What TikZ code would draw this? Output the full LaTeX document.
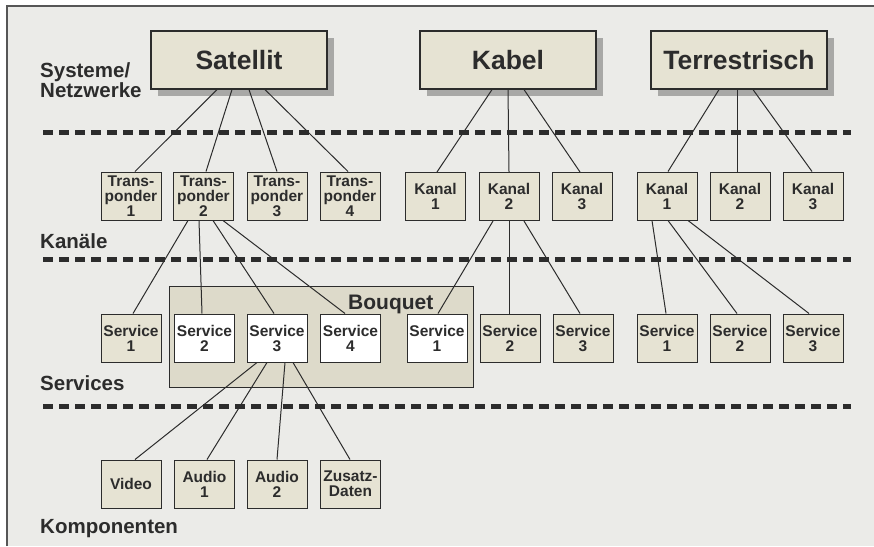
\documentclass[tikz,border=0pt]{standalone}
\usepackage{fontspec}
\setmainfont{Liberation Sans}
\usetikzlibrary{shadows}
\definecolor{bg}{HTML}{EBEBE8}
\definecolor{boxfill}{HTML}{E6E3D3}
\definecolor{bqfill}{HTML}{DDDACA}
\definecolor{ink}{HTML}{2C2C2C}
\definecolor{shade}{HTML}{A8A8A6}
\tikzset{
  bigbox/.style={draw=ink, line width=1.2pt, fill=boxfill, minimum width=176pt, minimum height=58pt,
    inner sep=0pt, font=\fontsize{26.5}{28}\selectfont\bfseries, text=ink,
    drop shadow={shadow xshift=7pt, shadow yshift=-7pt, fill=shade, opacity=1}},
  smallbox/.style={draw=ink, line width=1pt, fill=boxfill, minimum width=60pt, minimum height=48pt,
    inner sep=0pt, align=center, font=\fontsize{15.5}{15}\selectfont\bfseries, text=ink},
  whitebox/.style={smallbox, fill=white},
  layerlabel/.style={anchor=base west, inner sep=0pt, align=left, text=ink,
    font=\fontsize{20.5}{20}\selectfont\bfseries},
  sep/.style={draw=ink, line width=5pt, dash pattern=on 10pt off 6pt},
  link/.style={draw=ink, line width=1pt},
}
\begin{document}
\begin{tikzpicture}[x=1pt,y=-1pt]
\useasboundingbox (0,0) rectangle (874,546);
\fill[white] (0,0) rectangle (874,546);
\fill[bg] (7,6) rectangle (874,546);
\draw[draw=ink!80, line width=1.5pt] (7,546) -- (7,6) -- (874,6);

% separators
\draw[sep] (43,132) -- (851,132);
\draw[sep] (43,259) -- (851,259);
\draw[sep] (43,406) -- (851,406);

% layer labels
\node[layerlabel] (lsys) at (40,97) {Systeme/\\Netzwerke};
\node[layerlabel] (lkan) at (40,248) {Kanäle};
\node[layerlabel] (lsrv) at (40,390) {Services};
\node[layerlabel] (lkomp) at (40,533) {Komponenten};

% systems
\node[bigbox] (sat) at (239,60) {Satellit};
\node[bigbox] (kab) at (508,60) {Kabel};
\node[bigbox] (ter) at (739,60) {Terrestrisch};

% bouquet
\node[draw=ink, line width=1pt, fill=bqfill, minimum width=304pt, minimum height=101pt, inner sep=0pt] (bq) at (321,336.5) {};
\node[anchor=base west, inner sep=0pt, text=ink, font=\fontsize{21}{21}\selectfont\bfseries] (bqlabel) at (348,309) {Bouquet};

% channels
\node[smallbox] (t1) at (131,196) {Trans-\\ponder\\1};
\node[smallbox] (t2) at (203.5,196) {Trans-\\ponder\\2};
\node[smallbox] (t3) at (277,196) {Trans-\\ponder\\3};
\node[smallbox] (t4) at (350,196) {Trans-\\ponder\\4};
\node[smallbox] (k1) at (435.5,196.5) {Kanal\\1};
\node[smallbox] (k2) at (509,196.5) {Kanal\\2};
\node[smallbox] (k3) at (582,196.5) {Kanal\\3};
\node[smallbox] (r1) at (667,196) {Kanal\\1};
\node[smallbox] (r2) at (740,196) {Kanal\\2};
\node[smallbox] (r3) at (813,196) {Kanal\\3};

% services
\node[smallbox] (s1) at (131,338) {Service\\1};
\node[whitebox] (s2) at (204.5,338) {Service\\2};
\node[whitebox] (s3) at (277,338) {Service\\3};
\node[whitebox] (s4) at (350.5,338) {Service\\4};
\node[whitebox] (ks1) at (437,338) {Service\\1};
\node[smallbox] (ks2) at (510,338) {Service\\2};
\node[smallbox] (ks3) at (583,338) {Service\\3};
\node[smallbox] (rs1) at (667,338) {Service\\1};
\node[smallbox] (rs2) at (740,338) {Service\\2};
\node[smallbox] (rs3) at (813,338) {Service\\3};

% components
\node[smallbox] (c1) at (131,484) {Video};
\node[smallbox] (c2) at (204.5,484) {Audio\\1};
\node[smallbox] (c3) at (277,484) {Audio\\2};
\node[smallbox] (c4) at (350.5,484) {Zusatz-\\Daten};

% connectors
\draw[link] ([xshift=-22pt]sat.south) -- ([xshift=4pt]t1.north);
\draw[link] ([xshift=-7pt]sat.south) -- ([xshift=2.5pt]t2.north);
\draw[link] ([xshift=10pt]sat.south) -- (t3.north);
\draw[link] ([xshift=26pt]sat.south) -- ([xshift=-2pt]t4.north);

\draw[link] ([xshift=-16pt]kab.south) -- ([xshift=1.5pt]k1.north);
\draw[link] (kab.south) -- (k2.north);
\draw[link] ([xshift=16pt]kab.south) -- ([xshift=-2pt]k3.north);

\draw[link] ([xshift=-20pt]ter.south) -- ([xshift=1pt]r1.north);
\draw[link] ([xshift=-2pt]ter.south) -- ([xshift=-3pt]r2.north);
\draw[link] ([xshift=14pt]ter.south) -- ([xshift=-1pt]r3.north);

\draw[link] ([xshift=-15.5pt]t2.south) -- ([xshift=2pt]s1.north);
\draw[link] ([xshift=-4.5pt]t2.south) -- ([xshift=-2.5pt]s2.north);
\draw[link] ([xshift=9.5pt]t2.south) -- ([xshift=-3pt]s3.north);
\draw[link] ([xshift=19.5pt]t2.south) -- ([xshift=-5.5pt]s4.north);

\draw[link] ([xshift=-16pt]k2.south) -- ([xshift=1pt]ks1.north);
\draw[link] (k2.south) -- ([xshift=-1pt]ks2.north);
\draw[link] ([xshift=15pt]k2.south) -- ([xshift=-3pt]ks3.north);

\draw[link] ([xshift=-15pt]r1.south) -- ([xshift=-1pt]rs1.north);
\draw[link] ([xshift=1pt]r1.south) -- ([xshift=-3pt]rs2.north);
\draw[link] ([xshift=21pt]r1.south) -- ([xshift=-4pt]rs3.north);

\draw[link] ([xshift=-20pt]s3.south) -- ([xshift=4pt]c1.north);
\draw[link] ([xshift=-10pt]s3.south) -- ([xshift=2.5pt]c2.north);
\draw[link] ([xshift=8pt]s3.south) -- (c3.north);
\draw[link] ([xshift=16pt]s3.south) -- ([xshift=-0.5pt]c4.north);
\end{tikzpicture}
\end{document}
